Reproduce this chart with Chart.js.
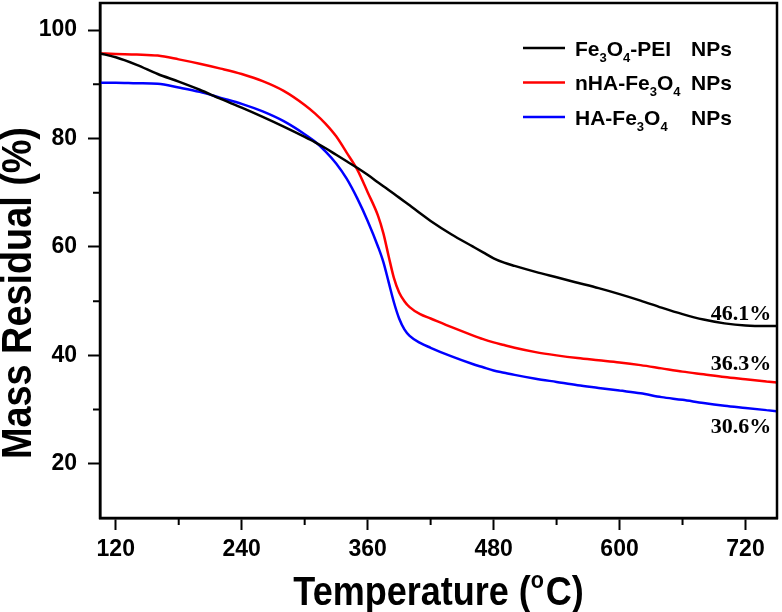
<!DOCTYPE html>
<html lang="en">
<head>
  <meta charset="UTF-8">
  <script src="https://cdn.jsdelivr.net/npm/chart.js"></script>
  <title>TGA curves</title>
  <style>
    body { margin: 0; background: #fff; }
  </style>
</head>
<body>
  <canvas id="tga" width="782" height="612"></canvas>
  <script>
    // temperature (C) and mass residual (%)
    const temps = [105, 120, 140, 160, 180, 200, 220, 240, 260, 280, 300, 310, 320, 330, 340, 350, 360, 370, 375, 380, 385, 390, 395, 400, 410, 420, 440, 460, 470, 480, 490, 500, 520, 540, 560, 580, 600, 620, 640, 660, 680, 700, 720, 740, 750];
    const peiVals = [95.7, 95.0, 93.6, 91.9, 90.5, 89.0, 87.3, 85.7, 84.0, 82.2, 80.3, 79.3, 78.2, 77.0, 75.8, 74.6, 73.3, 71.9, 71.2, 70.5, 69.8, 69.1, 68.4, 67.7, 66.2, 64.8, 62.3, 60.1, 59.0, 57.9, 57.1, 56.5, 55.4, 54.4, 53.4, 52.4, 51.3, 50.1, 48.8, 47.6, 46.6, 45.9, 45.5, 45.4, 45.4];
    const nhaVals = [95.7, 95.6, 95.5, 95.3, 94.6, 93.8, 92.9, 91.9, 90.6, 88.8, 86.2, 84.6, 82.7, 80.4, 77.4, 74.3, 70.1, 65.7, 62.5, 58.3, 54.3, 51.6, 50.0, 48.9, 47.6, 46.8, 45.2, 43.7, 43.0, 42.4, 41.9, 41.4, 40.6, 40.0, 39.5, 39.1, 38.7, 38.2, 37.6, 37.0, 36.5, 36.0, 35.6, 35.2, 35.0];
    const haVals = [90.3, 90.3, 90.2, 90.1, 89.4, 88.6, 87.5, 86.4, 85.0, 83.2, 80.8, 79.4, 77.6, 75.4, 72.6, 69.0, 64.8, 60.0, 57.2, 53.5, 49.8, 46.8, 44.8, 43.6, 42.3, 41.4, 39.8, 38.4, 37.8, 37.2, 36.8, 36.4, 35.7, 35.1, 34.5, 34.0, 33.5, 33.0, 32.3, 31.8, 31.2, 30.7, 30.3, 29.9, 29.7];

    const xTicks = [120, 240, 360, 480, 600, 720];
    const yTicks = [20, 40, 60, 80, 100];
    const xMinor = [180, 300, 420, 540, 660];
    const yMinor = [30, 50, 70, 90];

    const colors = ['#000000', '#ff0000', '#0000ff'];
    // legend entries: [text, isSubscript]
    const legendParts = [
      [['Fe', 0], ['3', 1], ['O', 0], ['4', 1], ['-PEI', 0]],
      [['nHA-Fe', 0], ['3', 1], ['O', 0], ['4', 1]],
      [['HA-Fe', 0], ['3', 1], ['O', 0], ['4', 1]]
    ];
    const endLabels = ['46.1%', '36.3%', '30.6%'];
    const endLabelY = [47.5, 38.3, 26.7];

    function points(vals) {
      return temps.map(function (t, i) { return { x: t, y: vals[i] }; });
    }

    function drawParts(ctx, parts, x, y) {
      for (const p of parts) {
        if (p[1]) {
          ctx.font = 'bold 13px "Liberation Sans", Arial, sans-serif';
          ctx.fillText(p[0], x, y + 6);
        } else {
          ctx.font = 'bold 21px "Liberation Sans", Arial, sans-serif';
          ctx.fillText(p[0], x, y);
        }
        x += ctx.measureText(p[0]).width;
      }
    }

    const extras = {
      id: 'extras',
      afterDraw: function (chart) {
        const ctx = chart.ctx;
        const a = chart.chartArea;
        const xs = chart.scales.x;
        const ys = chart.scales.y;
        ctx.save();
        // frame
        ctx.strokeStyle = '#000';
        ctx.lineWidth = 2.5;
        ctx.strokeRect(a.left, a.top, a.right - a.left, a.bottom - a.top);
        // minor ticks
        ctx.lineWidth = 2;
        ctx.beginPath();
        xMinor.forEach(function (v) {
          const px = xs.getPixelForValue(v);
          ctx.moveTo(px, a.bottom);
          ctx.lineTo(px, a.bottom + 7);
        });
        yMinor.forEach(function (v) {
          const py = ys.getPixelForValue(v);
          ctx.moveTo(a.left, py);
          ctx.lineTo(a.left - 7, py);
        });
        ctx.stroke();

        // legend
        ctx.fillStyle = '#000';
        ctx.textAlign = 'left';
        ctx.textBaseline = 'alphabetic';
        for (let i = 0; i < 3; i++) {
          const ly = 48 + i * 34.5;
          ctx.strokeStyle = colors[i];
          ctx.lineWidth = 2.5;
          ctx.beginPath();
          ctx.moveTo(523, ly);
          ctx.lineTo(565, ly);
          ctx.stroke();
          drawParts(ctx, legendParts[i], 575, ly + 7.5);
          ctx.font = 'bold 21px "Liberation Sans", Arial, sans-serif';
          ctx.fillText('NPs', 691, ly + 7.5);
        }

        // residual labels
        ctx.font = 'bold 22px "Liberation Serif", "Times New Roman", serif';
        ctx.textAlign = 'right';
        ctx.textBaseline = 'middle';
        endLabels.forEach(function (t, i) {
          ctx.fillText(t, xs.getPixelForValue(744.5), ys.getPixelForValue(endLabelY[i]));
        });

        // y title
        ctx.save();
        ctx.translate(19, 293);
        ctx.rotate(-Math.PI / 2);
        ctx.scale(0.9, 1);
        ctx.font = 'bold 42px "Liberation Sans", Arial, sans-serif';
        ctx.textAlign = 'center';
        ctx.textBaseline = 'middle';
        ctx.fillText('Mass Residual (%)', 0, 0);
        ctx.restore();

        // x title with superscript o
        ctx.save();
        const big = 'bold 40px "Liberation Sans", Arial, sans-serif';
        const small = 'bold 24px "Liberation Sans", Arial, sans-serif';
        ctx.font = big;
        const w1 = ctx.measureText('Temperature (').width;
        const w3 = ctx.measureText('C)').width;
        ctx.font = small;
        const w2 = ctx.measureText('o').width + 2;
        const total = (w1 + w2 + w3) * 0.9;
        ctx.translate((a.left + a.right) / 2 - total / 2, 605);
        ctx.scale(0.9, 1);
        ctx.textAlign = 'left';
        ctx.textBaseline = 'alphabetic';
        ctx.font = big;
        ctx.fillText('Temperature (', 0, 0);
        ctx.font = small;
        ctx.fillText('o', w1, -17);
        ctx.font = big;
        ctx.fillText('C)', w1 + w2, 0);
        ctx.restore();

        ctx.restore();
      }
    };

    const tickFont = { family: '"Liberation Sans", Arial, sans-serif', size: 23, weight: 'bold' };

    new Chart(document.getElementById('tga'), {
      type: 'line',
      data: {
        datasets: [
          { label: 'Fe3O4-PEI NPs', data: points(peiVals), borderColor: colors[0] },
          { label: 'nHA-Fe3O4 NPs', data: points(nhaVals), borderColor: colors[1] },
          { label: 'HA-Fe3O4 NPs', data: points(haVals), borderColor: colors[2] }
        ]
      },
      options: {
        responsive: false,
        animation: false,
        devicePixelRatio: 1,
        layout: { padding: { top: 3, right: 5, left: 0, bottom: 0 } },
        elements: {
          line: { borderWidth: 2.5, cubicInterpolationMode: 'monotone', fill: false },
          point: { radius: 0 }
        },
        plugins: { legend: { display: false }, tooltip: { enabled: false } },
        scales: {
          x: {
            type: 'linear',
            min: 105,
            max: 750,
            afterBuildTicks: function (s) { s.ticks = xTicks.map(function (v) { return { value: v }; }); },
            afterFit: function (s) { s.height = 94; s.paddingLeft = 0; s.paddingRight = 0; },
            grid: { drawOnChartArea: false, drawTicks: true, tickLength: 12, tickWidth: 2, tickColor: '#000' },
            border: { display: true, color: '#000', width: 2.5 },
            ticks: { font: tickFont, color: '#000', padding: 6, maxRotation: 0 }
          },
          y: {
            min: 10,
            max: 105,
            afterBuildTicks: function (s) { s.ticks = yTicks.map(function (v) { return { value: v }; }); },
            afterFit: function (s) { s.width = 100; s.paddingTop = 0; s.paddingBottom = 0; },
            grid: { drawOnChartArea: false, drawTicks: true, tickLength: 12, tickWidth: 2, tickColor: '#000' },
            border: { display: true, color: '#000', width: 2.5 },
            ticks: { font: tickFont, color: '#000', padding: 11 }
          }
        }
      },
      plugins: [extras]
    });
  </script>
</body>
</html>
